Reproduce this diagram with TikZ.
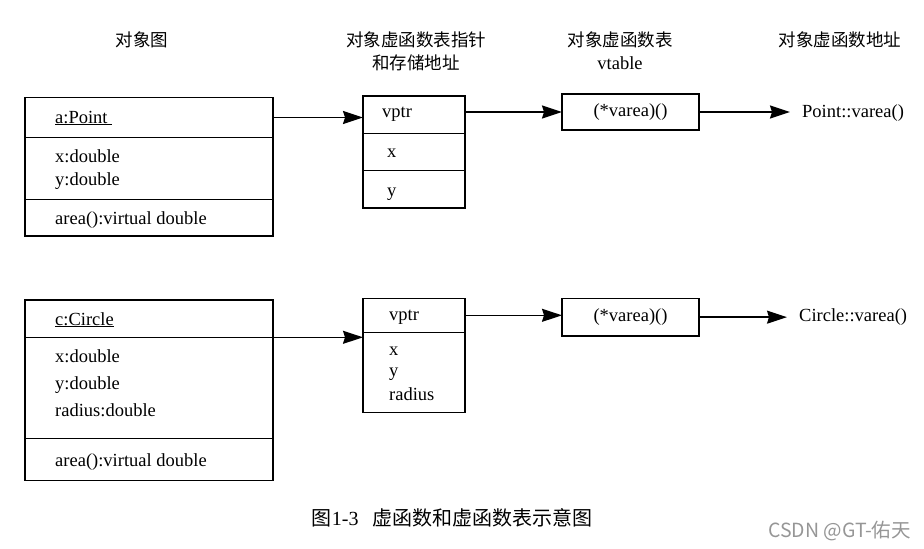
\documentclass[tikz,border=0pt]{standalone}
\usepackage{fontspec}
\setmainfont{Liberation Serif}
\newfontfamily\cjk{Noto Sans CJK SC}
\usetikzlibrary{arrows.meta}
\definecolor{wmgray}{RGB}{150,150,150}

\begin{document}
\begin{tikzpicture}[x=1pt,y=-1pt,
        cell/.style={draw,line width=1.4pt,inner sep=0pt,outer sep=0pt,font=\fontsize{18.5}{22}\selectfont},
        txt/.style={anchor=base west,inner sep=0pt,font=\fontsize{18.5}{22}\selectfont},
        head/.style={inner sep=0pt,font=\cjk\fontsize{17.5}{21}\selectfont},
        fn/.style={anchor=base west,inner xsep=12pt,inner ysep=0pt,font=\fontsize{18.5}{22}\selectfont},
        arr/.style={-{Stealth[length=20pt,width=13pt,inset=2pt]},line width=1.4pt}]
            \useasboundingbox (0,0) rectangle (924,549);
            \node[head] (hobj) at (142,40) {对象图};
            \node[head] (hptr) at (416,40) {对象虚函数表指针};
            \node[head] (hmem) at (416,62.7) {和存储地址};
            \node[head] (htab) at (620,40) {对象虚函数表};
            \node[inner sep=0pt,font=\fontsize{18.5}{22}\selectfont] (hvt) at (620,62.7) {vtable};
            \node[head] (hfun) at (840,40) {对象虚函数地址};
            \node[cell,minimum width=248pt,minimum height=40.4pt] (ptname) at (149,117.5) {};
            \node[cell,minimum width=248pt,minimum height=61.6pt] (ptattr) at (149,168.5) {};
            \node[cell,minimum width=248pt,minimum height=36.7pt] (ptop) at (149,217.65) {};
            \node[txt] (ptlab) at (55,123) {\underline{a:Point\ }};
            \node[txt] (ptx) at (55,162.5) {x:double};
            \node[txt] (pty) at (55,185.5) {y:double};
            \node[txt] (ptarea) at (55,224) {area():virtual double};
            \node[cell,minimum width=102pt,minimum height=37.3pt] (pvptr) at (414,114.65) {};
            \node[cell,minimum width=102pt,minimum height=37.4pt] (px) at (414,152) {};
            \node[cell,minimum width=102pt,minimum height=37.3pt] (py) at (414,189.35) {};
            \node[txt] (pvlab) at (382,117.5) {vptr};
            \node[txt] (pxlab) at (387,157.5) {x};
            \node[txt] (pylab) at (387,196.5) {y};
            \node[cell,minimum width=137pt,minimum height=36pt] (ptab) at (630.5,112) {(*varea)()};
            \node[fn] (pfun) at (790,117.5) {Point::varea()};
            \draw[arr] (ptname.east) -- (ptname.east -| pvptr.west);
            \draw[arr] (pvptr.east |- ptab.west) -- (ptab.west);
            \draw[arr] (ptab.east) -- (ptab.east -| pfun.west);
            \node[cell,minimum width=248pt,minimum height=37.3pt] (cname) at (149,318.65) {};
            \node[cell,minimum width=248pt,minimum height=101pt] (cattr) at (149,387.8) {};
            \node[cell,minimum width=248pt,minimum height=42.4pt] (cop) at (149,459.5) {};
            \node[txt] (clab) at (55,325) {\underline{c:Circle}};
            \node[txt] (cx) at (55,362.7) {x:double};
            \node[txt] (cy) at (55,389.3) {y:double};
            \node[txt] (cr) at (55,416.7) {radius:double};
            \node[txt] (carea) at (55,466.7) {area():virtual double};
            \node[cell,minimum width=102pt,minimum height=34pt] (cvptr) at (414,315.3) {};
            \node[cell,minimum width=102pt,minimum height=80.4pt] (cdata) at (414,372.5) {};
            \node[txt] (cvlab) at (389,320.7) {vptr};
            \node[txt] (cxlab) at (389,355) {x};
            \node[txt] (cylab) at (389,376.5) {y};
            \node[txt] (crlab) at (389,400) {radius};
            \node[cell,minimum width=137pt,minimum height=37.7pt] (ctab) at (630.5,317.15) {(*varea)()};
            \node[fn] (cfun) at (787,321) {Circle::varea()};
            \draw[arr] (cname.south east) -- (cname.south east -| cdata.west);
            \draw[arr] (cvptr.east) -- (cvptr.east -| ctab.west);
            \draw[arr] (ctab.east) -- (ctab.east -| cfun.west);
            \node[anchor=base west,inner sep=0pt,font=\fontsize{20}{24}\selectfont] (cap) at (311.7,525.5) {{\cjk 图}1-3\hspace{14pt}{\cjk 虚函数和虚函数表示意图}};
            \node[anchor=west,inner sep=0pt,text=wmgray,font=\cjk\fontsize{19.5}{23}\selectfont] (wm) at (768,531) {CSDN @GT-佑天};
        \end{tikzpicture}
\end{document}
